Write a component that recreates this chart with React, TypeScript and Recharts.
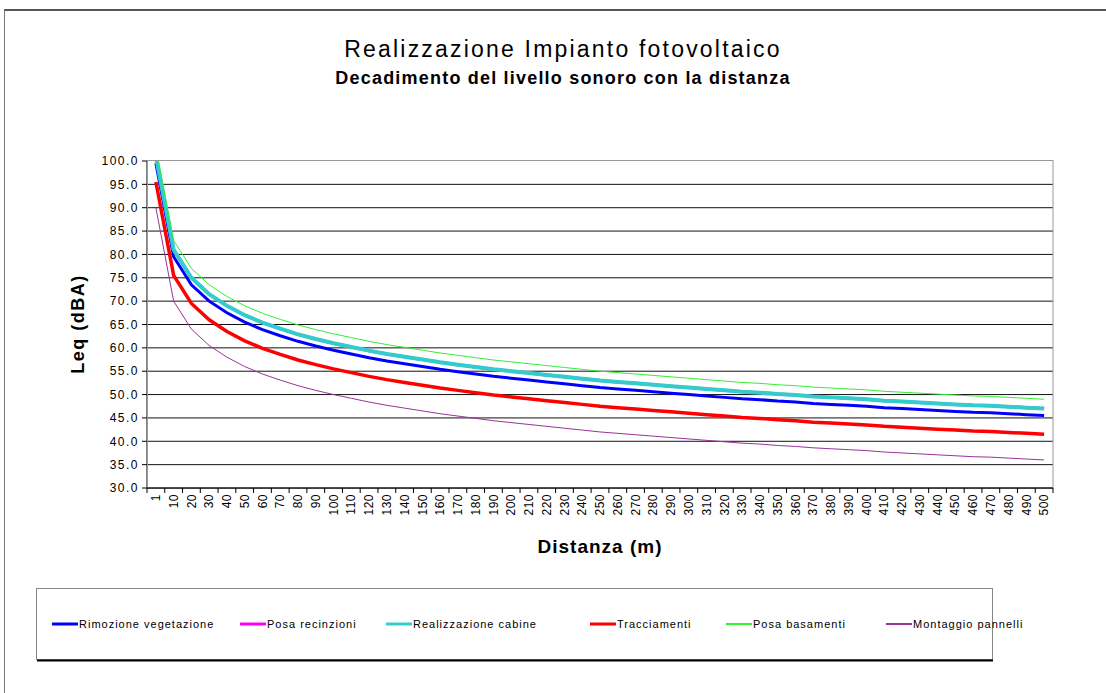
import { CartesianGrid, Line, LineChart, XAxis, YAxis } from "recharts";

const DIST = [
  "1", "10", "20", "30", "40", "50", "60", "70", "80", "90", "100",
  "110", "120", "130", "140", "150", "160", "170", "180", "190", "200",
  "210", "220", "230", "240", "250", "260", "270", "280", "290", "300",
  "310", "320", "330", "340", "350", "360", "370", "380", "390", "400",
  "410", "420", "430", "440", "450", "460", "470", "480", "490", "500",
];

const RIMOZIONE = [
  99.5, 79.5, 73.5, 70.0, 67.5, 65.5, 63.9, 62.6, 61.4, 60.4, 59.5,
  58.7, 57.9, 57.2, 56.6, 56.0, 55.4, 54.9, 54.4, 53.9, 53.5,
  53.1, 52.7, 52.3, 51.9, 51.5, 51.2, 50.9, 50.6, 50.3, 50.0,
  49.7, 49.4, 49.1, 48.9, 48.6, 48.4, 48.1, 47.9, 47.7, 47.5,
  47.2, 47.0, 46.8, 46.6, 46.4, 46.2, 46.1, 45.9, 45.7, 45.5,
];

const CABINE = [
  101.0, 81.0, 75.0, 71.5, 69.0, 67.0, 65.4, 64.1, 62.9, 61.9, 61.0,
  60.2, 59.4, 58.7, 58.1, 57.5, 56.9, 56.4, 55.9, 55.4, 55.0,
  54.6, 54.2, 53.8, 53.4, 53.0, 52.7, 52.4, 52.1, 51.8, 51.5,
  51.2, 50.9, 50.6, 50.4, 50.1, 49.9, 49.6, 49.4, 49.2, 49.0,
  48.7, 48.5, 48.3, 48.1, 47.9, 47.7, 47.6, 47.4, 47.2, 47.0,
];

// recinzioni sits exactly under the cabine line
const RECINZIONI = [
  101.0, 81.0, 75.0, 71.5, 69.0, 67.0, 65.4, 64.1, 62.9, 61.9, 61.0,
  60.2, 59.4, 58.7, 58.1, 57.5, 56.9, 56.4, 55.9, 55.4, 55.0,
  54.6, 54.2, 53.8, 53.4, 53.0, 52.7, 52.4, 52.1, 51.8, 51.5,
  51.2, 50.9, 50.6, 50.4, 50.1, 49.9, 49.6, 49.4, 49.2, 49.0,
  48.7, 48.5, 48.3, 48.1, 47.9, 47.7, 47.6, 47.4, 47.2, 47.0,
];

const TRACCIAMENTI = [
  95.5, 75.5, 69.5, 66.0, 63.5, 61.5, 59.9, 58.6, 57.4, 56.4, 55.5,
  54.7, 53.9, 53.2, 52.6, 52.0, 51.4, 50.9, 50.4, 49.9, 49.5,
  49.1, 48.7, 48.3, 47.9, 47.5, 47.2, 46.9, 46.6, 46.3, 46.0,
  45.7, 45.4, 45.1, 44.9, 44.6, 44.4, 44.1, 43.9, 43.7, 43.5,
  43.2, 43.0, 42.8, 42.6, 42.4, 42.2, 42.1, 41.9, 41.7, 41.5,
];

const BASAMENTI = [
  103.0, 83.0, 77.0, 73.5, 71.0, 69.0, 67.4, 66.1, 64.9, 63.9, 63.0,
  62.2, 61.4, 60.7, 60.1, 59.5, 58.9, 58.4, 57.9, 57.4, 57.0,
  56.6, 56.2, 55.8, 55.4, 55.0, 54.7, 54.4, 54.1, 53.8, 53.5,
  53.2, 52.9, 52.6, 52.4, 52.1, 51.9, 51.6, 51.4, 51.2, 51.0,
  50.7, 50.5, 50.3, 50.1, 49.9, 49.7, 49.6, 49.4, 49.2, 49.0,
];

const PANNELLI = [
  90.0, 70.0, 64.0, 60.5, 58.0, 56.0, 54.4, 53.1, 51.9, 50.9, 50.0,
  49.2, 48.4, 47.7, 47.1, 46.5, 45.9, 45.4, 44.9, 44.4, 44.0,
  43.6, 43.2, 42.8, 42.4, 42.0, 41.7, 41.4, 41.1, 40.8, 40.5,
  40.2, 39.9, 39.6, 39.4, 39.1, 38.9, 38.6, 38.4, 38.2, 38.0,
  37.7, 37.5, 37.3, 37.1, 36.9, 36.7, 36.6, 36.4, 36.2, 36.0,
];

const Y_TICKS = [30, 35, 40, 45, 50, 55, 60, 65, 70, 75, 80, 85, 90, 95, 100];

const SERIES = [
  { key: "rim", label: "Rimozione vegetazione", color: "#0000FF", width: 3, legendX: 52, values: RIMOZIONE },
  { key: "rec", label: "Posa recinzioni", color: "#FF00FF", width: 3, legendX: 240, values: RECINZIONI },
  { key: "cab", label: "Realizzazione cabine", color: "#33CCCC", width: 4, legendX: 386, values: CABINE },
  { key: "tra", label: "Tracciamenti", color: "#FF0000", width: 3.5, legendX: 590, values: TRACCIAMENTI },
  { key: "bas", label: "Posa basamenti", color: "#33EE33", width: 1, legendX: 726, values: BASAMENTI },
  { key: "pan", label: "Montaggio pannelli", color: "#993399", width: 1, legendX: 886, values: PANNELLI },
];

const data = DIST.map((d, i) => {
  const row: Record<string, string | number> = { d };
  SERIES.forEach((s) => (row[s.key] = s.values[i]));
  return row;
});

const FONT = "'Liberation Sans', Arial, sans-serif";
const PLOT_L = 147;
const PLOT_T = 161;
const PLOT_R = 1053;
const PLOT_B = 488;
const BAND = (PLOT_R - PLOT_L) / DIST.length;

function XTick(props: any) {
  const { x, y, payload, index } = props;
  const bx = x - BAND / 2;
  return (
    <g>
      <line x1={bx} x2={bx} y1={y} y2={y + 5} stroke="#000" />
      {index === DIST.length - 1 && (
        <line x1={x + BAND / 2} x2={x + BAND / 2} y1={y} y2={y + 5} stroke="#000" />
      )}
      <text
        transform={`translate(${x},${y + 6}) rotate(-90)`}
        textAnchor="end"
        dy="0.35em"
        fontSize={12}
        letterSpacing={0.5}
        fontFamily={FONT}
        fill="#000"
      >
        {payload.value}
      </text>
    </g>
  );
}

export default function App() {
  return (
    <div style={{ position: "absolute", left: 0, top: 0, width: 1106, height: 693, background: "#fff", fontFamily: FONT }}>
      <LineChart
        width={1106}
        height={693}
        data={data}
        margin={{ top: PLOT_T, right: 1106 - PLOT_R, bottom: 693 - PLOT_B - 40, left: PLOT_L - 60 }}
      >
        <CartesianGrid vertical={false} stroke="#111" horizontalValues={[35, 40, 45, 50, 55, 60, 65, 70, 75, 80, 85, 90, 95]} />
        <XAxis
          dataKey="d"
          interval={0}
          height={40}
          padding={{ left: BAND / 2, right: BAND / 2 }}
          tickSize={0}
          tickMargin={0}
          tickLine={false}
          axisLine={{ stroke: "#000" }}
          tick={<XTick />}
        />
        <YAxis
          domain={[30, 100]}
          ticks={Y_TICKS}
          allowDataOverflow
          width={60}
          tickSize={5}
          tickMargin={3}
          tickLine={{ stroke: "#000" }}
          axisLine={{ stroke: "#000" }}
          tick={{ fontSize: 12, fill: "#000", fontFamily: FONT, letterSpacing: 1.5 }}
          tickFormatter={(v: number) => v.toFixed(1)}
        />
        {SERIES.map((s) => (
          <Line
            key={s.key}
            type="linear"
            dataKey={s.key}
            name={s.label}
            stroke={s.color}
            strokeWidth={s.width}
            dot={false}
            activeDot={false}
            isAnimationActive={false}
          />
        ))}
      </LineChart>

      <svg width={1106} height={693} style={{ position: "absolute", left: 0, top: 0, pointerEvents: "none" }}>
        <line x1={4} y1={10} x2={1106} y2={10} stroke="#555" strokeWidth={2} />
        <line x1={4.5} y1={10} x2={4.5} y2={693} stroke="#777" strokeWidth={1} />
        <rect x={PLOT_L + 0.5} y={PLOT_T - 0.5} width={PLOT_R - PLOT_L - 0.5} height={PLOT_B - PLOT_T} fill="none" stroke="#999" />
        <line x1={PLOT_L} y1={PLOT_B} x2={PLOT_R} y2={PLOT_B} stroke="#000" />

        <text x={563} y={57} textAnchor="middle" fontSize={23} letterSpacing={2.2} fontFamily={FONT} fill="#000">
          Realizzazione Impianto fotovoltaico
        </text>
        <text x={563} y={84} textAnchor="middle" fontSize={18} fontWeight="bold" letterSpacing={1.2} fontFamily={FONT} fill="#000">
          Decadimento del livello sonoro con la distanza
        </text>
        <text transform="translate(84,324) rotate(-90)" textAnchor="middle" fontSize={18} fontWeight="bold" letterSpacing={1.5} fontFamily={FONT} fill="#000">
          Leq (dBA)
        </text>
        <text x={600} y={553} textAnchor="middle" fontSize={19} fontWeight="bold" letterSpacing={1} fontFamily={FONT} fill="#000">
          Distanza (m)
        </text>

        <rect x={36.5} y={588.5} width={956} height={71} fill="#fff" stroke="#888" />
        <line x1={37} y1={660.5} x2={993} y2={660.5} stroke="#000" strokeWidth={2} />
        {SERIES.map((s) => (
          <g key={s.key}>
            <line x1={s.legendX} x2={s.legendX + 26} y1={624} y2={624} stroke={s.color} strokeWidth={Math.max(2, Math.min(s.width, 3))} />
            <text x={s.legendX + 27} y={628} fontSize={11} letterSpacing={1} fontFamily={FONT} fill="#000">
              {s.label}
            </text>
          </g>
        ))}
      </svg>
    </div>
  );
}
